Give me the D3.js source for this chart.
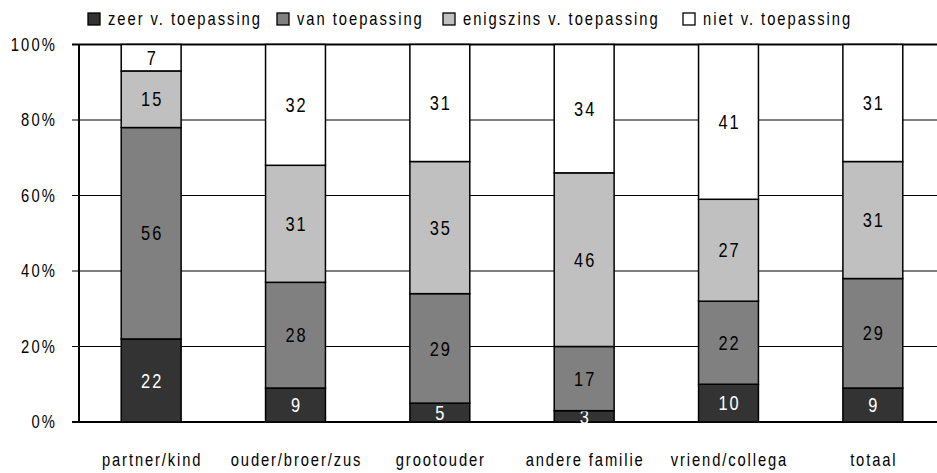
<!DOCTYPE html>
<html>
<head>
<meta charset="utf-8">
<script src="https://cdn.jsdelivr.net/npm/d3@7"></script>
<style>
  body { margin: 0; background: #fff; }
  svg text { font-family: "Liberation Sans", Arial, sans-serif; }
</style>
</head>
<body>
<svg id="chart" width="937" height="473"></svg>
<script>
// categories and series (percentages per category)
const categories = ['partner/kind', 'ouder/broer/zus', 'grootouder', 'andere familie', 'vriend/collega', 'totaal'];
const seriesNames = ['zeer v. toepassing', 'van toepassing', 'enigszins v. toepassing', 'niet v. toepassing'];
const zeer = [22, 9, 5, 3, 10, 9];
const van = [56, 28, 29, 17, 22, 29];
const enigszins = [15, 31, 35, 46, 27, 31];
const niet = [7, 32, 31, 34, 41, 31];
const yTicks = [0, 20, 40, 60, 80, 100];

const colors = ['#333333', '#808080', '#c0c0c0', '#ffffff'];
const labelColors = ['#ffffff', '#000000', '#000000', '#000000'];

// narrow font look: Liberation Sans squeezed horizontally
const squeeze = 0.82;
const place = (px, py) => `translate(${px},${py}) scale(${squeeze},1)`;

const svg = d3.select('#chart');
const margin = {left: 79, right: -8, top: 44.5, bottom: 51};
const width = 937 - margin.left - margin.right;
const height = 473 - margin.top - margin.bottom;

const g = svg.append('g').attr('transform', `translate(${margin.left},${margin.top})`);

const x = d3.scaleBand().domain(categories).range([0, width]).paddingInner(0.585).paddingOuter(0.2925);
const y = d3.scaleLinear().domain([0, 100]).range([height, 0]);

// table of rows for stacking
const rows = categories.map((c, i) => ({cat: c, s0: zeer[i], s1: van[i], s2: enigszins[i], s3: niet[i]}));
const stack = d3.stack().keys(['s0', 's1', 's2', 's3']);
const layers = stack(rows);

// gridlines
g.selectAll('.grid')
    .data(yTicks)
    .join('line')
    .attr('x1', -7)
    .attr('x2', width)
    .attr('y1', d => y(d))
    .attr('y2', d => y(d))
    .attr('stroke', '#000')
    .attr('stroke-width', d => (d === 0 || d === 100) ? 2 : 1);

// y labels
g.selectAll('.ylab')
    .data(yTicks)
    .join('text')
    .attr('transform', d => place(-22, y(d)))
    .attr('dy', '0.36em')
    .attr('text-anchor', 'end')
    .attr('font-size', 18)
    .attr('letter-spacing', 2.6)
    .text(d => d + '%');

// left axis line
g.append('line')
    .attr('x1', 0).attr('x2', 0)
    .attr('y1', 0).attr('y2', height)
    .attr('stroke', '#000').attr('stroke-width', 2);

// bars
const layerG = g.selectAll('.layer')
    .data(layers)
    .join('g')
    .attr('fill', (d, i) => colors[i]);

layerG.selectAll('rect')
    .data(d => d)
    .join('rect')
    .attr('x', d => x(d.data.cat))
    .attr('width', x.bandwidth())
    .attr('y', d => y(d[1]))
    .attr('height', d => y(d[0]) - y(d[1]))
    .attr('stroke', '#000')
    .attr('stroke-width', 1.5);

// value labels
layerG.selectAll('text')
    .data((d, i) => d.map(v => ({v, i})))
    .join('text')
    .attr('transform', d => place(x(d.v.data.cat) + x.bandwidth() / 2 + 1, y((d.v[0] + d.v[1]) / 2)))
    .attr('dy', '0.36em')
    .attr('text-anchor', 'middle')
    .attr('font-size', 20)
    .attr('letter-spacing', 2.4)
    .attr('fill', d => labelColors[d.i])
    .text(d => d.v[1] - d.v[0]);

// category labels
g.selectAll('.xlab')
    .data(categories)
    .join('text')
    .attr('transform', d => place(x(d) + x.bandwidth() / 2 + 1, height + 44))
    .attr('text-anchor', 'middle')
    .attr('font-size', 18)
    .attr('letter-spacing', 2.3)
    .text(d => d);

// legend
const legendX = [88, 277, 443, 683];
const legend = svg.selectAll('.legend')
    .data(seriesNames)
    .join('g')
    .attr('transform', (d, i) => `translate(${legendX[i]},13)`);

legend.append('rect')
    .attr('width', 12).attr('height', 12)
    .attr('fill', (d, i) => colors[i])
    .attr('stroke', '#000').attr('stroke-width', 1.3);

legend.append('text')
    .attr('transform', place(20, 12))
    .attr('font-size', 18)
    .attr('letter-spacing', 2.4)
    .text(d => d);
</script>
</body>
</html>
